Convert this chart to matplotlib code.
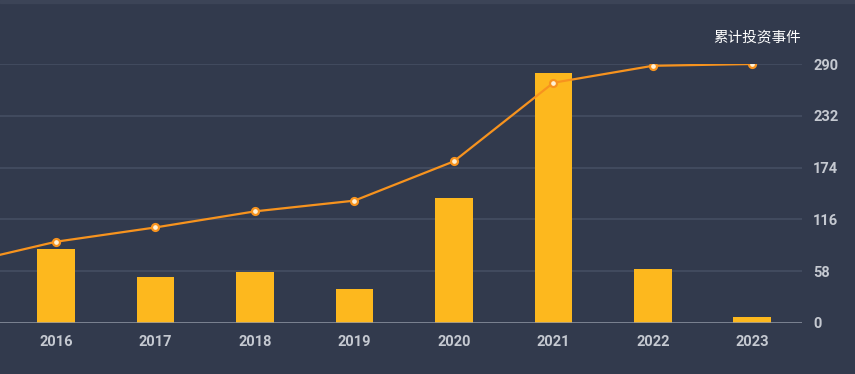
import matplotlib.pyplot as plt
from matplotlib.patches import Rectangle

plt.rcParams['font.family'] = ['Roboto', 'Noto Sans CJK SC', 'DejaVu Sans']

# 数据
years = ["2016", "2017", "2018", "2019", "2020", "2021", "2022", "2023"]
new_events = [26, 16, 18, 12, 44, 88, 19, 2]          # 每年投资事件 (柱)
cum_events = [91, 107, 125, 137, 181, 269, 288, 290]   # 累计投资事件 (线)
cum_2015 = 65                                          # 线从左边缘外开始
y_ticks = [0, 58, 116, 174, 232, 290]

bg = '#323a4d'
bar_color = '#fdb81e'
line_color = '#f7931e'
text_color = '#c5c9d1'

fig = plt.figure(figsize=(8.55, 3.74), dpi=100, facecolor=bg)
fig.patches.append(Rectangle((0, 0.992), 1, 0.008, transform=fig.transFigure,
                             color='#3c4457', zorder=0))

rect = [0, 1 - 323 / 374, 802 / 855, (323 - 64) / 374]
ax = fig.add_axes(rect)
ax.set_facecolor(bg)
x = list(range(len(years)))

# 柱 (隐藏的左轴)
ax_bar = ax.twinx()
ax_bar.set_ylim(0, 91)
ax_bar.bar(x, new_events, width=0.378, color=bar_color, zorder=2)
ax_bar.axis('off')

# 线
ax_line = ax.twinx()
ax_line.set_ylim(0, 290)
ax_line.axhline(0, color='#8c92a0', linewidth=1.8, zorder=1)
ax_line.plot([-1] + x, [cum_2015] + cum_events, color=line_color, linewidth=1.6,
             marker='o', markersize=5, markerfacecolor='#fff1d6',
             markeredgecolor=line_color, markeredgewidth=1.6,
             markevery=list(range(1, len(x) + 1)), zorder=3)
ax_line.axis('off')

# 主轴: 右侧刻度和网格
ax.set_xlim(-0.563, 7.5)
ax.set_ylim(0, 290)
ax.set_yticks(y_ticks)
ax.yaxis.tick_right()
ax.set_xticks(x)
ax.set_xticklabels(years)
ax.tick_params(axis='both', length=0, colors=text_color, labelsize=10.5)
ax.tick_params(axis='y', pad=8)
ax.tick_params(axis='x', pad=9)
for lab in ax.get_xticklabels() + ax.get_yticklabels():
    lab.set_fontweight('bold')
ax.grid(axis='y', color='#414a5e', linewidth=1.5)
ax.grid(axis='x', visible=False)
for s in ax.spines.values():
    s.set_visible(False)
ax_line.set_xlim(ax.get_xlim())

fig.text(757 / 855, 1 - 37 / 374, "累计投资事件", color='white', fontsize=10.5,
         ha='center', va='center', family=['Noto Sans CJK SC', 'DejaVu Sans'])

fig.savefig("out.png", dpi=100, facecolor=bg)
